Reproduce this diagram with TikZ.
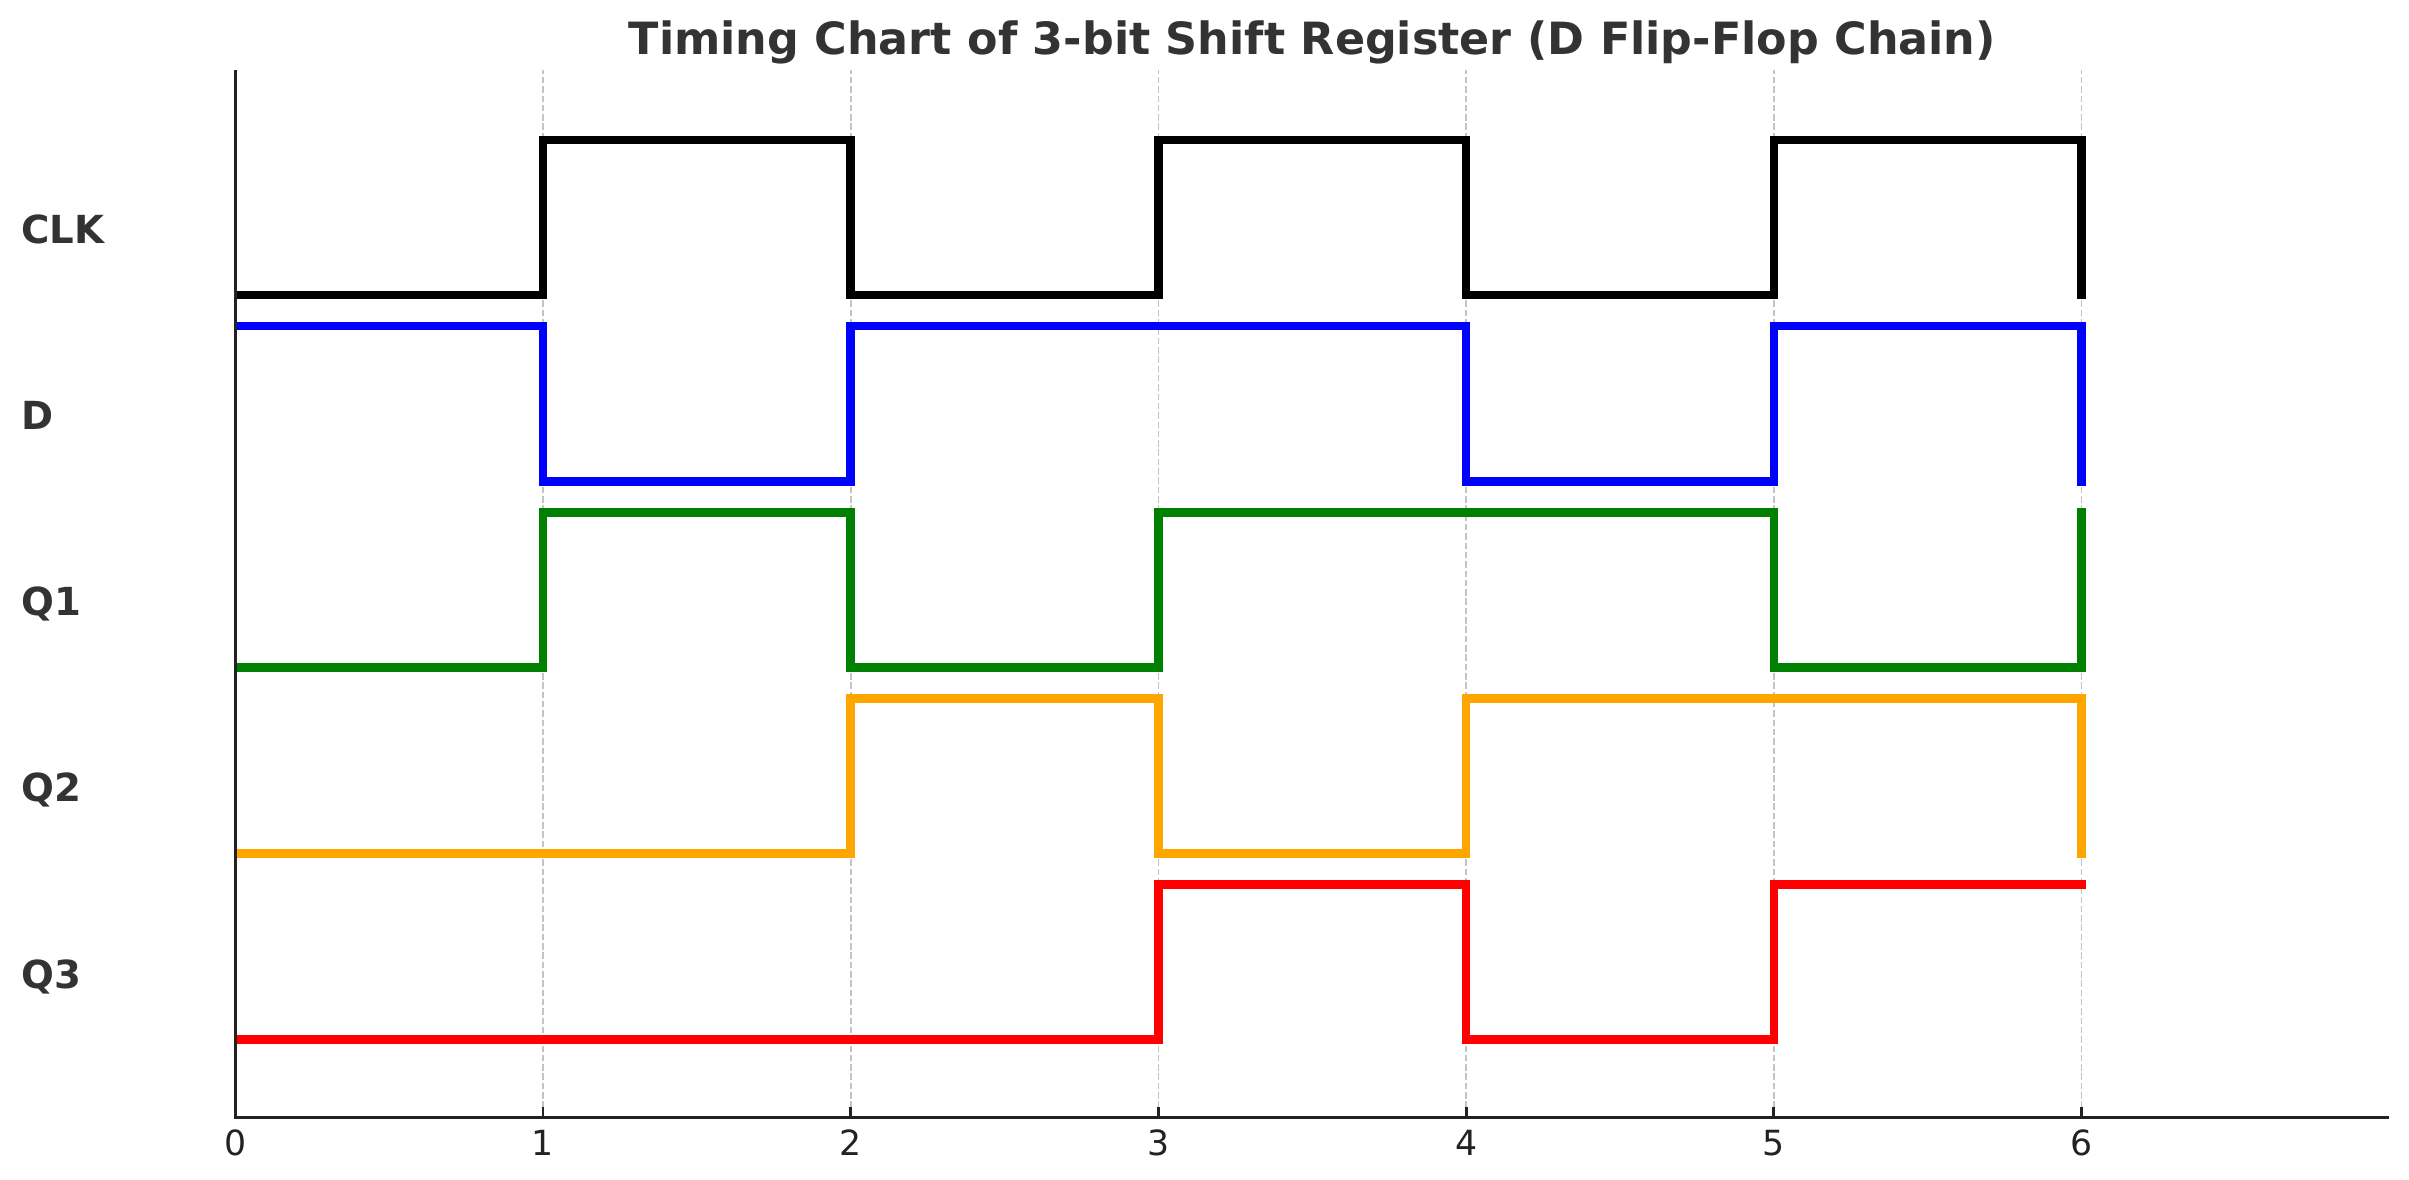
\documentclass[tikz,border=0pt]{standalone}
\usepackage{fontspec}
\setmainfont{DejaVu Sans}
\definecolor{txt}{HTML}{333333}
\definecolor{axc}{HTML}{222222}
\definecolor{gridc}{HTML}{C4C4C4}
\definecolor{sigorange}{RGB}{255,165,0}
\definecolor{siggreen}{RGB}{0,128,0}
\definecolor{sigblue}{RGB}{0,0,255}
\definecolor{sigred}{RGB}{255,0,0}
\tikzset{
  wave/.style={line width=2.4pt, line cap=rect, line join=miter},
  gridline/.style={draw=gridc, line width=0.5pt, dash pattern=on 1.85pt off 0.8pt},
  spine/.style={draw=axc, line width=0.8pt},
  sigtext/.style={anchor=base west, inner sep=0pt, text=txt, font=\fontsize{11.0}{13}\selectfont\bfseries},
  ticktext/.style={anchor=north, inner sep=0pt, text=axc, font=\fontsize{9.87}{12}\selectfont},
  titletext/.style={anchor=base, inner sep=0pt, text=txt, font=\fontsize{12.64}{15}\selectfont\bfseries}
}
\begin{document}
\begin{tikzpicture}
\useasboundingbox (0,0) rectangle (24.09,11.80);
\begin{scope}[shift={(2.353,1.403)}, x=3.077cm, y=1.551cm]
  % grid
  \foreach \i in {1,...,6} {
    \draw[gridline] (\i,-0.5) -- (\i,6.25);
  }
  % waveforms
  \begin{scope}
    \clip (0,-0.5) rectangle (7.2,6.6);
    \draw[wave, black] (0,4.8) -- (1,4.8) -- (1,5.8) -- (2,5.8) -- (2,4.8) -- (3,4.8) -- (3,5.8) -- (4,5.8) -- (4,4.8) -- (5,4.8) -- (5,5.8) -- (6,5.8) -- (6,4.8);
    \draw[wave, sigblue] (0,4.6) -- (1,4.6) -- (1,3.6) -- (2,3.6) -- (2,4.6) -- (4,4.6) -- (4,3.6) -- (5,3.6) -- (5,4.6) -- (6,4.6) -- (6,3.6);
    \draw[wave, siggreen] (0,2.4) -- (1,2.4) -- (1,3.4) -- (2,3.4) -- (2,2.4) -- (3,2.4) -- (3,3.4) -- (5,3.4) -- (5,2.4) -- (6,2.4) -- (6,3.4);
    \draw[wave, sigorange] (0,1.2) -- (2,1.2) -- (2,2.2) -- (3,2.2) -- (3,1.2) -- (4,1.2) -- (4,2.2) -- (6,2.2) -- (6,1.2);
    \draw[wave, sigred] (0,0) -- (3,0) -- (3,1) -- (4,1) -- (4,0) -- (5,0) -- (5,1) -- (6,1);
  \end{scope}
  % spines
  \coordinate (origin) at (0,-0.5);
  \coordinate (ytop) at (0,6.25);
  \coordinate (xend) at (7,-0.5);
  \draw[spine] (ytop) -- (origin) -- (xend);
  % ticks and labels
  \foreach \i in {0,...,6} {
    \draw[spine] (\i,-0.5) -- ++(0,0.1cm);
    \node[ticktext] (tick\i) at ([yshift=-0.12cm]\i,-0.5) {\i};
  }
  % signal names
  \node[sigtext] (lclk) at ([xshift=-2.146cm]0,5.133) {CLK};
  \node[sigtext] (ld) at ([xshift=-2.146cm]0,3.933) {D};
  \node[sigtext] (lq1) at ([xshift=-2.146cm]0,2.733) {Q1};
  \node[sigtext] (lq2) at ([xshift=-2.146cm]0,1.533) {Q2};
  \node[sigtext] (lq3) at ([xshift=-2.146cm]0,0.333) {Q3};
  % title
  \node[titletext] (title) at (3.5,6.355) {Timing Chart of 3-bit Shift Register (D Flip-Flop Chain)};
\end{scope}
\end{tikzpicture}
\end{document}
